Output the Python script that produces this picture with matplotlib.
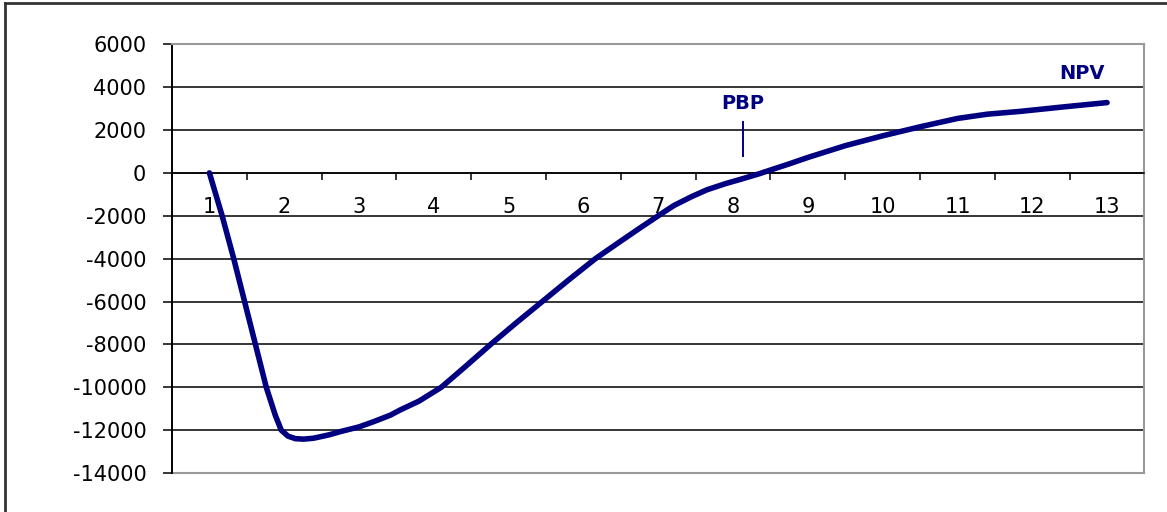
import matplotlib.pyplot as plt
from matplotlib.lines import Line2D

# NPV curve (x in years, value)
years = [1.0, 1.17, 1.325, 1.47, 1.615, 1.76, 1.88, 1.96, 2.05, 2.15, 2.26, 2.39,
         2.60, 2.75, 3.0, 3.2, 3.42, 3.55, 3.8, 4.1, 4.4, 4.76, 5.1, 5.45,
         5.8, 6.16, 6.5, 6.76, 7.0, 7.21, 7.45, 7.65, 7.9, 8.1, 8.35, 8.54,
         8.75, 9.0, 9.5, 10.0, 10.5, 11.0, 11.4, 11.84, 12.42, 13.0]
npv = [0, -2000, -4000, -6000, -8000, -10000, -11300, -12000, -12280, -12400, -12420, -12380,
       -12220, -12070, -11850, -11600, -11300, -11060, -10650, -10000, -9100, -8000, -7000, -6000,
       -5000, -4000, -3180, -2560, -2000, -1520, -1100, -790, -500, -300, -40, 180,
       420, 720, 1270, 1730, 2150, 2540, 2740, 2870, 3080, 3280]

categories = list(range(1, 14))
yticks = list(range(-14000, 6001, 2000))

pbp_x = 8.13
pbp_line = (770, 2390)
pbp_label = (8.13, 3250)
npv_label = (12.67, 4620)

navy = '#000080'

fig = plt.figure(figsize=(11.67, 5.12), dpi=100)
ax = fig.add_axes([0.1474, 0.0762, 0.8333, 0.8373])

ax.set_xlim(0.5, 13.5)
ax.set_ylim(-14000, 6000)

for y in yticks[1:-1]:
    ax.axhline(y, color='black', lw=1.1, zorder=1)
ax.axhline(-14000, color='#999999', lw=1.5, clip_on=False, zorder=1)

ax.plot(years, npv, color=navy, lw=4, solid_capstyle='round',
        solid_joinstyle='round', zorder=3)

ax.plot([pbp_x, pbp_x], pbp_line, color=navy, lw=1.4, zorder=3)
ax.text(*pbp_label, 'PBP', ha='center', va='center', fontweight='bold',
        color=navy, fontsize=14)
ax.text(*npv_label, 'NPV', ha='center', va='center', fontweight='bold',
        color=navy, fontsize=14)

# spines
ax.spines['bottom'].set_position(('data', 0))
ax.spines['bottom'].set_color('black')
ax.spines['bottom'].set_linewidth(1.1)
ax.spines['left'].set_color('black')
ax.spines['left'].set_linewidth(1.4)
for s in ['top', 'right']:
    ax.spines[s].set_color('#999999')
    ax.spines[s].set_linewidth(1.5)

ax.set_yticks(yticks)
ax.set_yticklabels([str(v) for v in yticks])
ax.tick_params(axis='y', direction='out', length=6.5, width=1.1, pad=12,
               labelsize=15, colors='black')

ax.set_xticks(categories)
ax.set_xticklabels([str(c) for c in categories])
ax.set_xticks([c - 0.5 for c in categories] + [13.5], minor=True)
ax.tick_params(axis='x', which='major', length=0, pad=17, labelsize=15)
ax.tick_params(axis='x', which='minor', direction='out', length=5, width=1.1)

# outer chart border (left and top visible)
fig.add_artist(Line2D([5 / 1167, 5 / 1167], [0, 1 - 3 / 512],
                      transform=fig.transFigure, color='#333333', lw=2))
fig.add_artist(Line2D([5 / 1167, 1], [1 - 3 / 512, 1 - 3 / 512],
                      transform=fig.transFigure, color='#333333', lw=2))

fig.savefig('out.png', dpi=100)
